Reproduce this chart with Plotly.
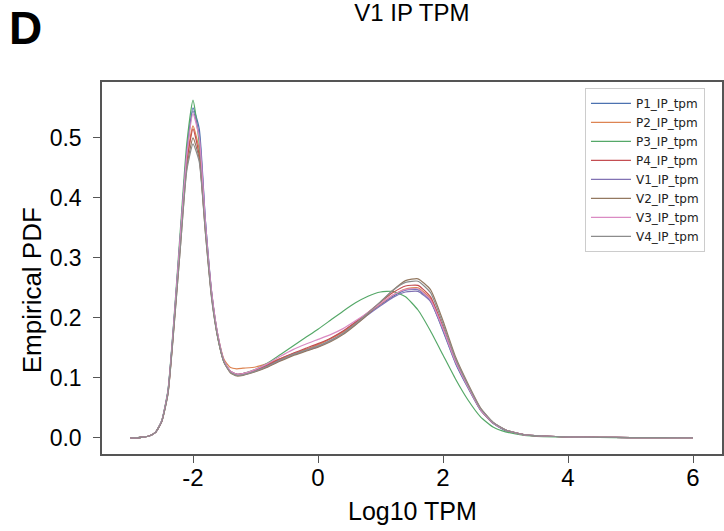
import plotly.graph_objects as go

x_vals = [-3.0, -2.9, -2.8, -2.7, -2.6, -2.5, -2.4, -2.3, -2.2, -2.1, -2.0, -1.9, -1.8, -1.7,
          -1.6, -1.5, -1.4, -1.3, -1.2, -1.0, -0.8, -0.6, -0.4, -0.2, 0.0, 0.2, 0.4, 0.6,
          0.8, 1.0, 1.2, 1.4, 1.6, 1.8, 2.0, 2.2, 2.4, 2.6, 2.8, 3.0, 3.3, 3.6, 4.0, 4.5,
          5.0, 5.5, 6.0]

P1_IP_tpm = [0, 0, 0.001, 0.003, 0.009, 0.028, 0.078, 0.2, 0.34, 0.475, 0.55, 0.515, 0.36, 0.24,
             0.168, 0.126, 0.111, 0.106, 0.107, 0.113, 0.121, 0.131, 0.14, 0.147, 0.155, 0.165,
             0.177, 0.192, 0.207, 0.222, 0.236, 0.246, 0.247, 0.228, 0.178, 0.124, 0.083, 0.046,
             0.024, 0.012, 0.005, 0.003, 0.0015, 0.0008, 0.0004, 0.0002, 0.0001]
P2_IP_tpm = [0, 0, 0.001, 0.003, 0.009, 0.028, 0.076, 0.195, 0.33, 0.46, 0.52, 0.48, 0.35, 0.24,
             0.17, 0.13, 0.117, 0.115, 0.116, 0.118, 0.124, 0.132, 0.14, 0.147, 0.155, 0.165,
             0.176, 0.191, 0.207, 0.223, 0.238, 0.248, 0.25, 0.232, 0.182, 0.127, 0.085, 0.047,
             0.025, 0.013, 0.005, 0.003, 0.0015, 0.0008, 0.0004, 0.0002, 0.0001]
P3_IP_tpm = [0, 0, 0.001, 0.003, 0.009, 0.029, 0.08, 0.205, 0.35, 0.49, 0.563, 0.49, 0.35, 0.235,
             0.165, 0.125, 0.11, 0.105, 0.107, 0.114, 0.125, 0.139, 0.153, 0.167, 0.181, 0.196,
             0.211, 0.225, 0.236, 0.243, 0.244, 0.235, 0.213, 0.178, 0.138, 0.098, 0.063, 0.035,
             0.018, 0.01, 0.004, 0.002, 0.001, 0.0006, 0.0003, 0.0002, 0.0001]
P4_IP_tpm = [0, 0, 0.001, 0.003, 0.009, 0.027, 0.075, 0.195, 0.33, 0.46, 0.515, 0.47, 0.345, 0.235,
             0.166, 0.126, 0.111, 0.106, 0.107, 0.113, 0.122, 0.132, 0.141, 0.149, 0.157, 0.166,
             0.178, 0.193, 0.209, 0.226, 0.242, 0.253, 0.254, 0.235, 0.185, 0.128, 0.086, 0.047,
             0.025, 0.013, 0.005, 0.003, 0.0015, 0.0008, 0.0004, 0.0002, 0.0001]
V1_IP_tpm = [0, 0, 0.001, 0.003, 0.009, 0.028, 0.078, 0.2, 0.34, 0.475, 0.545, 0.505, 0.36, 0.242,
             0.17, 0.127, 0.11, 0.104, 0.105, 0.111, 0.119, 0.129, 0.138, 0.145, 0.152, 0.162,
             0.174, 0.189, 0.205, 0.22, 0.234, 0.243, 0.244, 0.227, 0.18, 0.126, 0.085, 0.047,
             0.025, 0.013, 0.005, 0.003, 0.0015, 0.0008, 0.0004, 0.0002, 0.0001]
V2_IP_tpm = [0, 0, 0.001, 0.003, 0.009, 0.027, 0.074, 0.19, 0.32, 0.45, 0.5, 0.465, 0.34, 0.232,
             0.165, 0.125, 0.108, 0.103, 0.104, 0.11, 0.118, 0.128, 0.137, 0.144, 0.151, 0.16,
             0.172, 0.188, 0.206, 0.226, 0.246, 0.262, 0.265, 0.247, 0.195, 0.135, 0.09, 0.05,
             0.026, 0.013, 0.005, 0.003, 0.0015, 0.0008, 0.0004, 0.0002, 0.0001]
V3_IP_tpm = [0, 0, 0.001, 0.003, 0.009, 0.028, 0.077, 0.2, 0.34, 0.47, 0.54, 0.5, 0.355, 0.24,
             0.17, 0.127, 0.111, 0.106, 0.107, 0.114, 0.124, 0.136, 0.147, 0.156, 0.164, 0.172,
             0.182, 0.195, 0.209, 0.224, 0.238, 0.247, 0.248, 0.23, 0.182, 0.127, 0.085, 0.047,
             0.025, 0.013, 0.005, 0.003, 0.0015, 0.0008, 0.0004, 0.0002, 0.0001]
V4_IP_tpm = [0, 0, 0.001, 0.003, 0.009, 0.027, 0.073, 0.19, 0.32, 0.445, 0.49, 0.46, 0.34, 0.23,
             0.165, 0.125, 0.109, 0.104, 0.105, 0.111, 0.12, 0.13, 0.139, 0.146, 0.153, 0.162,
             0.174, 0.19, 0.208, 0.227, 0.246, 0.259, 0.261, 0.242, 0.19, 0.132, 0.088, 0.049,
             0.026, 0.013, 0.005, 0.003, 0.0015, 0.0008, 0.0004, 0.0002, 0.0001]

series_names = ["P1_IP_tpm", "P2_IP_tpm", "P3_IP_tpm", "P4_IP_tpm",
                "V1_IP_tpm", "V2_IP_tpm", "V3_IP_tpm", "V4_IP_tpm"]
series_values = [P1_IP_tpm, P2_IP_tpm, P3_IP_tpm, P4_IP_tpm,
                 V1_IP_tpm, V2_IP_tpm, V3_IP_tpm, V4_IP_tpm]
colors = ["#4c72b0", "#dd8452", "#55a868", "#c44e52",
          "#8172b3", "#937860", "#da8bc3", "#8c8c8c"]

x_ticks = [-2, 0, 2, 4, 6]
y_ticks = [0.0, 0.1, 0.2, 0.3, 0.4, 0.5]
y_tick_labels = ["0.0", "0.1", "0.2", "0.3", "0.4", "0.5"]

FONT = "Liberation Sans, Arial, sans-serif"
AXIS_COLOR = "#555555"

fig = go.Figure()
for name, vals, col in zip(series_names, series_values, colors):
    fig.add_trace(go.Scatter(x=x_vals, y=vals, mode="lines", name=name,
                             line=dict(color=col, width=1.2, shape="spline", smoothing=0.5)))

fig.update_layout(
    width=724, height=531, autosize=False,
    margin=dict(l=102, r=2, t=82, b=77, pad=0),
    plot_bgcolor="white", paper_bgcolor="white",
    font=dict(family=FONT, color="black"),
    title=dict(text="V1 IP TPM", x=0.5689, xanchor="center", y=0.993, yanchor="top",
               font=dict(size=24, family=FONT, color="black")),
    legend=dict(x=0.779, y=0.984, xanchor="left", yanchor="top",
                bgcolor="white", bordercolor="#cccccc", borderwidth=1,
                font=dict(size=12, family="DejaVu Sans, sans-serif", color="#222222"),
                tracegroupgap=0, itemwidth=40),
    showlegend=True,
)

fig.update_xaxes(range=[-3.456, 6.464], tickvals=x_ticks, ticktext=[str(t) for t in x_ticks],
                 automargin=False,
                 showgrid=False, zeroline=False, showline=True, linecolor=AXIS_COLOR, linewidth=1.5,
                 mirror=True, ticks="outside", ticklen=7, tickwidth=1.2, tickcolor=AXIS_COLOR,
                 ticklabelstandoff=-6,
                 tickfont=dict(size=24, family=FONT, color="black"))
fig.update_yaxes(range=[-0.027, 0.593], tickvals=y_ticks, ticktext=y_tick_labels,
                 automargin=False,
                 showgrid=False, zeroline=False, showline=True, linecolor=AXIS_COLOR, linewidth=1.5,
                 mirror=True, ticks="outside", ticklen=7, tickwidth=1.2, tickcolor=AXIS_COLOR,
                 ticklabelstandoff=7,
                 tickfont=dict(size=23, family=FONT, color="black"))

# axis titles placed as annotations (paper coords: plot spans x 102..722, y 82..454)
fig.add_annotation(text="Log10 TPM", xref="paper", yref="paper", x=0.5, y=-0.154,
                   xanchor="center", yanchor="middle", showarrow=False,
                   font=dict(size=25, family=FONT, color="black"))
fig.add_annotation(text="Empirical PDF", xref="paper", yref="paper", x=-0.113, y=0.44,
                   xanchor="center", yanchor="middle", showarrow=False, textangle=-90,
                   font=dict(size=26, family=FONT, color="black"))
fig.add_annotation(text="<b>D</b>", xref="paper", yref="paper", x=-0.1226, y=1.145,
                   xanchor="center", yanchor="middle", showarrow=False,
                   font=dict(size=46, family=FONT, color="black"))

fig.write_html("out.html", config={"displayModeBar": False},
               post_script="document.body.style.margin='0';")
